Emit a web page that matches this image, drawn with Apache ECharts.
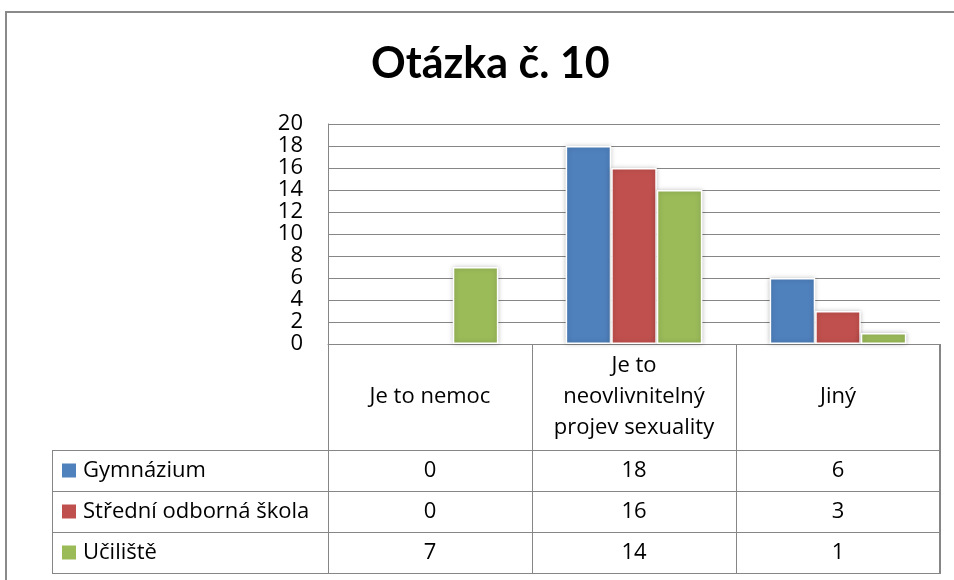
<!DOCTYPE html>
<html>
<head>
<meta charset="utf-8">
<script src="https://cdn.jsdelivr.net/npm/echarts@6/dist/echarts.min.js"></script>
<style>
  html, body { margin: 0; padding: 0; background: #fff; }
  #chart { width: 954px; height: 580px; }
</style>
</head>
<body>
<div id="chart"></div>
<script>
var categories = ['Je to nemoc', 'Je to\nneovlivnitelný\nprojev sexuality', 'Jiný'];
var seriesNames = ['Gymnázium', 'Střední odborná škola', 'Učiliště'];
var gymnazium = [0, 18, 6];
var stredniSkola = [0, 16, 3];
var uciliste = [7, 14, 1];
var yTicks = [0, 2, 4, 6, 8, 10, 12, 14, 16, 18, 20];

var colors = ['#4F81BD', '#C0504D', '#9BBB59'];
var seriesData = [gymnazium, stredniSkola, uciliste];
var lineColor = '#868686';
var font = "'Open Sans', sans-serif";

// layout of the data table under the plot
var TABLE_LEFT = 52;
var HEADER_H = 106;
var ROW_H = 41;

var myChart = echarts.init(document.getElementById('chart'));

myChart.setOption({
  animation: false,
  title: {
    text: 'Otázka č. 10',
    left: 366,
    top: 38,
    textStyle: {
      fontFamily: "Lato, sans-serif",
      fontWeight: 'bold',
      fontSize: 43,
      color: '#000'
    }
  },
  grid: {
    left: 328,
    right: 14,
    top: 124,
    bottom: 236
  },
  xAxis: {
    type: 'category',
    data: categories,
    axisLine: { show: true, lineStyle: { color: lineColor, width: 1 } },
    axisTick: { show: true, interval: 0, length: HEADER_H, lineStyle: { color: lineColor } },
    axisLabel: {
      interval: 0,
      hideOverlap: false,
      margin: 53,
      verticalAlign: 'middle',
      fontFamily: font,
      fontSize: 22,
      lineHeight: 31,
      color: '#000'
    }
  },
  yAxis: {
    type: 'value',
    min: yTicks[0],
    max: yTicks[yTicks.length - 1],
    interval: 2,
    axisLine: { show: true, lineStyle: { color: lineColor } },
    axisTick: { show: false },
    axisLabel: {
      margin: 25,
      fontFamily: font,
      fontSize: 22,
      color: '#000'
    },
    splitLine: { lineStyle: { color: lineColor, width: 1 } }
  },
  series: seriesNames.map(function (name, i) {
    return {
      name: name,
      type: 'bar',
      // zero bars get no border or shadow so nothing shows at the base
      data: seriesData[i].map(function (v) {
        return v === 0 ? { value: v, itemStyle: { borderWidth: 0, shadowBlur: 0 } } : v;
      }),
      barGap: '0%',
      barCategoryGap: '33%',
      itemStyle: {
        color: colors[i],
        borderColor: '#fff',
        borderWidth: 1.5,
        shadowBlur: 5,
        shadowColor: 'rgba(0,0,0,0.25)'
      }
    };
  })
});

// data table drawn from the axis positions
var centers = categories.map(function (c, i) {
  return myChart.convertToPixel({ xAxisIndex: 0 }, i);
});
var colW = centers[1] - centers[0];
var plotLeft = centers[0] - colW / 2;
var plotRight = centers[centers.length - 1] + colW / 2;
var zeroY = myChart.convertToPixel({ yAxisIndex: 0 }, 0);
var tableTop = zeroY + HEADER_H;
var tableBottom = tableTop + ROW_H * seriesNames.length;

var g = [];
function hline(y, x1, x2, w) {
  g.push({ type: 'line', silent: true, shape: { x1: x1, y1: y, x2: x2, y2: y },
    style: { stroke: lineColor, lineWidth: w || 1 } });
}
function vline(x, y1, y2, w) {
  g.push({ type: 'line', silent: true, shape: { x1: x, y1: y1, x2: x, y2: y2 },
    style: { stroke: lineColor, lineWidth: w || 1 } });
}

// outer chart border
g.push({ type: 'rect', silent: true, shape: { x: 6, y: 12, width: 1200, height: 1200 },
  style: { fill: null, stroke: '#8a8a8a', lineWidth: 2 } });

for (var r = 0; r <= seriesNames.length; r++) {
  hline(Math.round(tableTop + r * ROW_H) + 0.5, TABLE_LEFT, plotRight);
}
vline(TABLE_LEFT + 0.5, tableTop, tableBottom);
vline(Math.round(plotLeft) + 0.5, zeroY, tableBottom);
for (var c = 1; c < categories.length; c++) {
  vline(Math.round(plotLeft + c * colW) + 0.5, tableTop, tableBottom);
}
vline(Math.round(plotRight), zeroY, tableBottom + 1, 2);

seriesNames.forEach(function (name, i) {
  var cy = tableTop + i * ROW_H + ROW_H / 2;
  g.push({ type: 'rect', silent: true, shape: { x: TABLE_LEFT + 10, y: cy - 7, width: 14, height: 14 },
    style: { fill: colors[i] } });
  g.push({ type: 'text', silent: true, x: TABLE_LEFT + 31, y: cy,
    style: { text: name, font: '22px ' + font, fill: '#000', textVerticalAlign: 'middle', textAlign: 'left' } });
  seriesData[i].forEach(function (v, j) {
    g.push({ type: 'text', silent: true, x: centers[j], y: cy,
      style: { text: String(v), font: '22px ' + font, fill: '#000', textVerticalAlign: 'middle', textAlign: 'center' } });
  });
});

myChart.setOption({ graphic: g });
</script>
</body>
</html>
